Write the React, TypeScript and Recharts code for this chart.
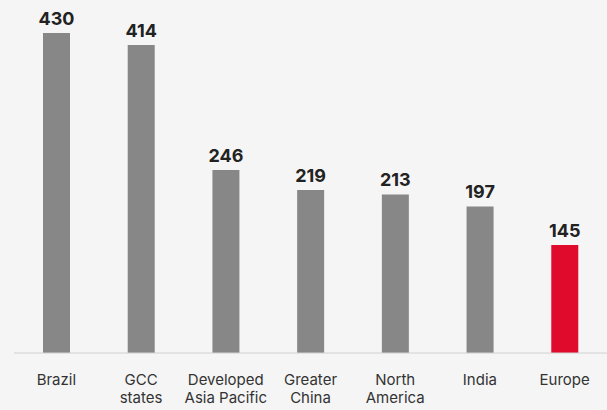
import { BarChart, Bar, XAxis, YAxis, LabelList, Cell } from 'recharts';

const regions = ['Brazil', 'GCC states', 'Developed Asia Pacific', 'Greater China', 'North America', 'India', 'Europe'];
const tickLines = [['Brazil'], ['GCC', 'states'], ['Developed', 'Asia Pacific'], ['Greater', 'China'], ['North', 'America'], ['India'], ['Europe']];
const values = [430, 414, 246, 219, 213, 197, 145];
const highlight = 'Europe';

const data = regions.map((r, i) => ({ region: r, value: values[i] }));

function RegionTick(props: any) {
  const { x, y, index } = props;
  const lines = tickLines[index] || [];
  return (
    <g>
      {lines.map((l, i) => (
        <text
          key={i}
          x={x}
          y={y + 24 + i * 18}
          textAnchor="middle"
          fill="#333"
          fontSize={15}
          fontFamily="Inter, Roboto, sans-serif"
        >
          {l}
        </text>
      ))}
    </g>
  );
}

export default function App() {
  return (
    <div style={{ position: 'absolute', left: 0, top: 0, width: 607, height: 410, background: '#f5f5f5' }}>
      <BarChart width={607} height={410} data={data} margin={{ top: 33, right: 0, left: 14, bottom: 0 }}>
        <XAxis
          dataKey="region"
          axisLine={{ stroke: '#d0d0d0' }}
          tickLine={false}
          interval={0}
          tick={<RegionTick />}
          height={57}
        />
        <YAxis hide domain={[0, 430]} />
        <Bar dataKey="value" barSize={27} isAnimationActive={false}>
          {data.map((d) => (
            <Cell key={d.region} fill={d.region === highlight ? '#e00b2c' : '#878787'} />
          ))}
          <LabelList
            dataKey="value"
            position="top"
            offset={8}
            fill="#222"
            fontSize={18}
            fontWeight={700}
            fontFamily="Inter, Roboto, sans-serif"
          />
        </Bar>
      </BarChart>
    </div>
  );
}
